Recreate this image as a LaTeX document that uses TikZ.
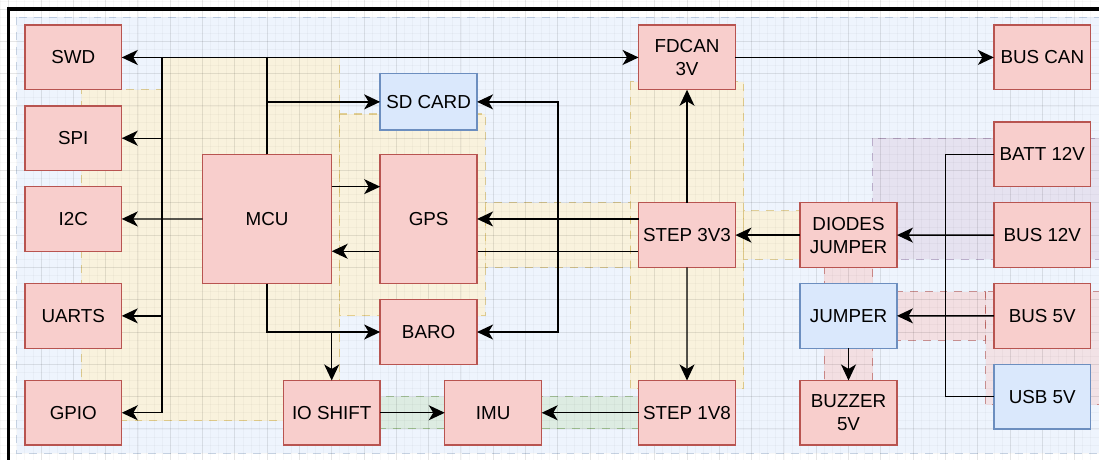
\documentclass[tikz,border=0pt]{standalone}
\usepackage{fontspec}
\setmainfont{Liberation Sans}
\usetikzlibrary{arrows.meta,positioning,calc,backgrounds}

\definecolor{redfill}{HTML}{F8CECC}
\definecolor{redline}{HTML}{B85450}
\definecolor{bluefill}{HTML}{DAE8FC}
\definecolor{blueline}{HTML}{6C8EBF}
\definecolor{yelfill}{HTML}{FFF2CC}
\definecolor{yelline}{HTML}{D6B656}
\definecolor{grnfill}{HTML}{D5E8D4}
\definecolor{grnline}{HTML}{82B366}
\definecolor{purfill}{HTML}{E1D5E7}
\definecolor{purline}{HTML}{9673A6}

\begin{document}
\begin{tikzpicture}[
    x=0.1615cm, y=-0.1615cm,
    node distance=0.323cm and 0.323cm,
    block/.style={rectangle, draw=redline, fill=redfill, line width=0.75pt, outer sep=0pt, inner sep=1pt, minimum width=1.938cm, minimum height=1.292cm, align=center, font=\fontsize{10.7}{13}\selectfont},
    blueblock/.style={block, draw=blueline, fill=bluefill},
    zone/.style={dash pattern=on 4.5pt off 4pt, line width=0.6pt, fill opacity=0.65, draw opacity=0.6},
    gridminor/.style={black, opacity=0.028, line width=0.4pt},
    gridmajor/.style={black, opacity=0.07, line width=0.5pt},
    arrow/.style={-{Stealth[length=3.2mm, width=3mm, inset=0.9mm]}, line width=0.8pt},
    wire/.style={line width=0.8pt}
]
    \useasboundingbox (-1.077,-1.115) rectangle (135.02,55.73);

    % left side: MCU and peripherals
    \node[block] (swd) at (8,6) {SWD};
    \node[block, below=of swd] (spi) {SPI};
    \node[block, below=of spi] (i2c) {I2C};
    \node[block, below=0.646cm of i2c] (uarts) {UARTS};
    \node[block, below=0.646cm of uarts] (gpio) {GPIO};
    \node[block, minimum width=2.584cm, minimum height=2.584cm] (mcu) at (32,26) {MCU};
    \node[block, minimum height=2.584cm, right=0.969cm of mcu] (gps) {GPS};
    \node[blueblock, minimum height=1.13cm] (sdcard) at (52,11.5) {SD CARD};
    \node[block, below=of gps] (baro) {BARO};
    \node[block] (ioshift) at (40,50) {IO SHIFT};
    \node[block, right=1.292cm of ioshift] (imu) {IMU};
    \node[block, right=1.938cm of imu] (step1v8) {STEP 1V8};

    % power column
    \node[block] (step3v3) at (84,28) {STEP 3V3};
    \node[block] (fdcan) at (84,6) {FDCAN\\3V};
    \node[block] (diodes) at (104,28) {DIODES\\JUMPER};
    \node[blueblock, below=of diodes] (jumper) {JUMPER};
    \node[block, below=0.646cm of jumper] (buzzer) {BUZZER\\5V};

    % connectors on the right
    \node[block] (buscan) at (128,6) {BUS CAN};
    \node[block] (batt) at (128,18) {BATT 12V};
    \node[block, below=of batt] (bus12) {BUS 12V};
    \node[block, below=of bus12] (bus5) {BUS 5V};
    \node[blueblock, below=of bus5] (usb) {USB 5V};

    \coordinate (ltop) at (19,6);
    \coordinate (sdbus) at (68,26);

    \draw[arrow] (mcu.north) |- (swd.east);
    \draw[arrow] (mcu.north) |- (fdcan.west);
    \draw[arrow] (mcu.north) |- (sdcard.west);
    \draw[arrow] (mcu.west) -- (i2c.east);
    \draw[arrow] (ltop) |- (spi.east);
    \draw[arrow] (ltop) |- (uarts.east);
    \draw[arrow] (ltop) |- (gpio.east);
    \draw[arrow] ($(mcu.east)+(0,-4)$) -- ($(gps.west)+(0,-4)$);
    \draw[arrow] ($(step3v3.west)+(0,-2)$) -- (gps.east);
    \draw[arrow] ($(step3v3.west)+(0,-2)$) -- (sdbus) |- (sdcard.east);
    \draw[arrow] (sdbus) |- (baro.east);
    \draw[arrow] (mcu.south) |- (baro.west);
    \draw[arrow] (mcu.south) |- (ioshift.north |- baro.west) -- (ioshift.north);
    \draw[arrow] (ioshift) -- (imu);
    \draw[arrow] (step1v8) -- (imu);
    \draw[arrow] (step3v3) -- (fdcan);
    \draw[arrow] (step3v3) -- (step1v8);
    \draw[arrow] (fdcan) -- (buscan);
    \draw[arrow] (diodes) -- (step3v3);
    \draw[arrow] (bus12) -- (diodes);
    \draw[wire] (batt.west) -- ++(-6,0) |- (usb.west);
    \draw[arrow] (bus5) -- (jumper);
    \draw[arrow] (jumper) -- (buzzer);

    \begin{pgfonlayer}{background}
    \begin{scope}
        \clip (-1.077,-1.115) rectangle (135.02,55.73);
        \fill[white] (-1.077,-1.115) rectangle (135.02,55.73);
        % zones
        \draw[zone, draw=blueline, fill=bluefill, fill opacity=0.45, draw opacity=0.35] (1,1) rectangle (140,55);
        \draw[zone, draw=yelline, fill=yelfill] (9,10) -- (19,10) -- (19,6) -- (41,6) -- (41,51) -- (9,51) -- cycle;
        \draw[zone, draw=yelline, fill=yelfill] (41,13) rectangle (59,38);
        \draw[zone, draw=yelline, fill=yelfill] (59,24) rectangle (77,32);
        \draw[zone, draw=yelline, fill=yelfill] (77,9) rectangle (91,47);
        \draw[zone, draw=yelline, fill=yelfill] (91,25) rectangle (98,31);
        \draw[zone, draw=grnline, fill=grnfill] (46,48) rectangle (78,52);
        \draw[zone, draw=purline, fill=purfill, fill opacity=0.55, draw opacity=0.5] (107,16) rectangle (140,31);
        \draw[zone, draw=redline, fill=redfill, fill opacity=0.55] (101,30) rectangle (107,48);
        \draw[zone, draw=redline, fill=redfill, fill opacity=0.55] (110,35) rectangle (121,41);
        \draw[zone, draw=redline, fill=redfill, fill opacity=0.45] (121,35) rectangle (140,49);
        % grid
        \foreach \gx in {-1,...,135} \draw[gridminor] (\gx,-1.2) -- (\gx,55.8);
        \foreach \gy in {-1,...,55} \draw[gridminor] (-1.2,\gy) -- (135.2,\gy);
        \foreach \gx in {0,4,...,132} \draw[gridmajor] (\gx,-1.2) -- (\gx,55.8);
        \foreach \gy in {0,4,...,52} \draw[gridmajor] (-1.2,\gy) -- (135.2,\gy);
        % frame
        \draw[black, line width=1.8pt] (0,58) -- (0,0) -- (140,0);
        % edge behind GPS
        \draw[arrow] ($(step3v3.west)+(0,2)$) -- ($(mcu.east)+(0,4)$);
    \end{scope}
    \end{pgfonlayer}
\end{tikzpicture}
\end{document}
